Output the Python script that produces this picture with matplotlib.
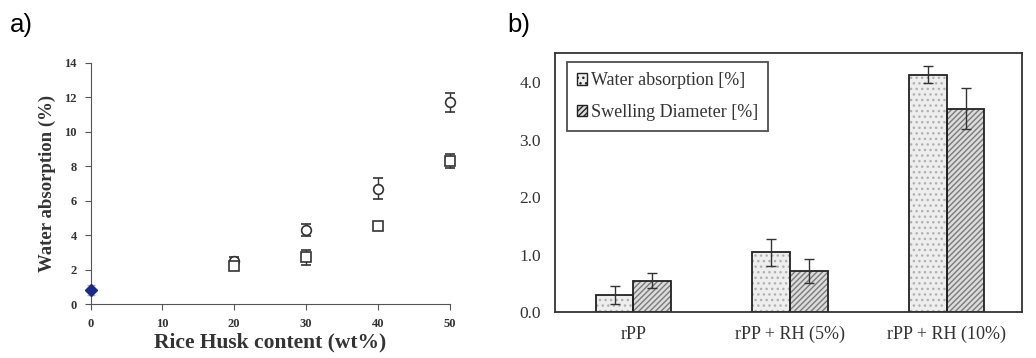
import numpy as np
import matplotlib.pyplot as plt
from matplotlib.patches import Patch

# panel a) - water absorption vs rice husk content
rh_content = [20, 30, 40, 50]
circ_vals = [2.5, 4.3, 6.7, 11.7]
circ_err = [0.2, 0.35, 0.6, 0.55]
sq_vals = [2.2, 2.7, 4.5, 8.3]
sq_err = [0.15, 0.45, 0.2, 0.4]
neat_x = [0]
neat_val = [0.8]
neat_err = [0.3]

# panel b) - bars
groups = ['rPP', 'rPP + RH (5%)', 'rPP + RH (10%)']
water = [0.30, 1.04, 4.13]
water_err = [0.15, 0.24, 0.15]
swell = [0.55, 0.72, 3.54]
swell_err = [0.13, 0.21, 0.36]

serif = 'Liberation Serif'
fig = plt.figure(figsize=(10.36, 3.58), dpi=100)

# ---- a)
ax1 = fig.add_axes([0.0875, 0.1508, 0.3465, 0.674])
col = '#333333'
ax1.errorbar(rh_content, circ_vals, yerr=circ_err, fmt='o', mfc='white', mec=col,
             ms=7, mew=1.2, ecolor=col, elinewidth=1, capsize=3.5, clip_on=False)
ax1.errorbar(rh_content, sq_vals, yerr=sq_err, fmt='s', mfc='white', mec=col,
             ms=6.5, mew=1.2, ecolor=col, elinewidth=1, capsize=3.5, clip_on=False)
ax1.errorbar(neat_x, neat_val, yerr=neat_err, fmt='D', color='#1a2a8c', ms=6,
             ecolor='#c8b060', elinewidth=1, capsize=3, clip_on=False, zorder=5)
ax1.set_xlim(0, 50)
ax1.set_ylim(0, 14)
ax1.set_xticks(range(0, 51, 10))
ax1.set_yticks(range(0, 15, 2))
for s in ['top', 'right']:
    ax1.spines[s].set_visible(False)
for s in ['left', 'bottom']:
    ax1.spines[s].set_color('#555555')
ax1.tick_params(direction='out', length=4, color='#555555', labelsize=9, pad=6)
for lab in ax1.get_xticklabels() + ax1.get_yticklabels():
    lab.set_fontfamily(serif)
    lab.set_fontweight('bold')
    lab.set_color('#333333')
ax1.set_xlabel('Rice Husk content (wt%)', family=serif, weight='bold', fontsize=15.5,
               color='#333333', labelpad=2)
ax1.set_ylabel('Water absorption (%)', family=serif, weight='bold', fontsize=13.5,
               color='#333333', labelpad=6)
fig.text(0.010, 0.912, 'a)', fontsize=18.5, family='Liberation Sans')

# ---- b)
ax2 = fig.add_axes([0.5357, 0.1277, 0.4508, 0.7235])
x = np.arange(len(groups))
w = 0.24
ax2.bar(x - w / 2, water, w, color='#eeeeee', edgecolor='#b0b0b0', hatch='...', lw=0)
ax2.bar(x + w / 2, swell, w, color='#dcdcdc', edgecolor='#7a7a7a', hatch='//////', lw=0)
ax2.bar(x - w / 2, water, w, fill=False, edgecolor='#222222', lw=1.3)
ax2.bar(x + w / 2, swell, w, fill=False, edgecolor='#222222', lw=1.3)
ax2.errorbar(x - w / 2, water, yerr=water_err, fmt='none', ecolor='#333333',
             elinewidth=1, capsize=3.5)
ax2.errorbar(x + w / 2, swell, yerr=swell_err, fmt='none', ecolor='#333333',
             elinewidth=1, capsize=3.5)
ax2.set_xlim(-0.5, 2.48)
ax2.set_ylim(0, 4.5)
ax2.set_yticks([0, 1, 2, 3, 4])
ax2.set_yticklabels(['0.0', '1.0', '2.0', '3.0', '4.0'])
ax2.set_xticks(x)
ax2.set_xticklabels(groups)
ax2.tick_params(axis='y', length=0, labelsize=12.5, pad=10, labelcolor='#333333')
ax2.tick_params(axis='x', length=0, labelsize=13, pad=10, labelcolor='#333333')
for lab in ax2.get_xticklabels() + ax2.get_yticklabels():
    lab.set_fontfamily(serif)
for s in ax2.spines.values():
    s.set_color('#333333')
    s.set_linewidth(1.3)

handles = [Patch(facecolor='#eeeeee', edgecolor='#222222', hatch='...', label='Water absorption [%]'),
           Patch(facecolor='#dcdcdc', edgecolor='#222222', hatch='//////', label='Swelling Diameter [%]')]
leg = ax2.legend(handles=handles, loc='upper left', bbox_to_anchor=(0.025, 0.965),
                 prop={'family': serif, 'size': 13}, frameon=True, fancybox=False,
                 edgecolor='#222222', handlelength=0.6, handleheight=0.6,
                 handletextpad=0.2, borderpad=0.55, borderaxespad=0, labelspacing=0.8)
leg.get_frame().set_linewidth(1.3)
for t in leg.get_texts():
    t.set_color('#333333')
fig.text(0.49, 0.912, 'b)', fontsize=18.5, family='Liberation Sans')

fig.savefig('out.png', dpi=100)
